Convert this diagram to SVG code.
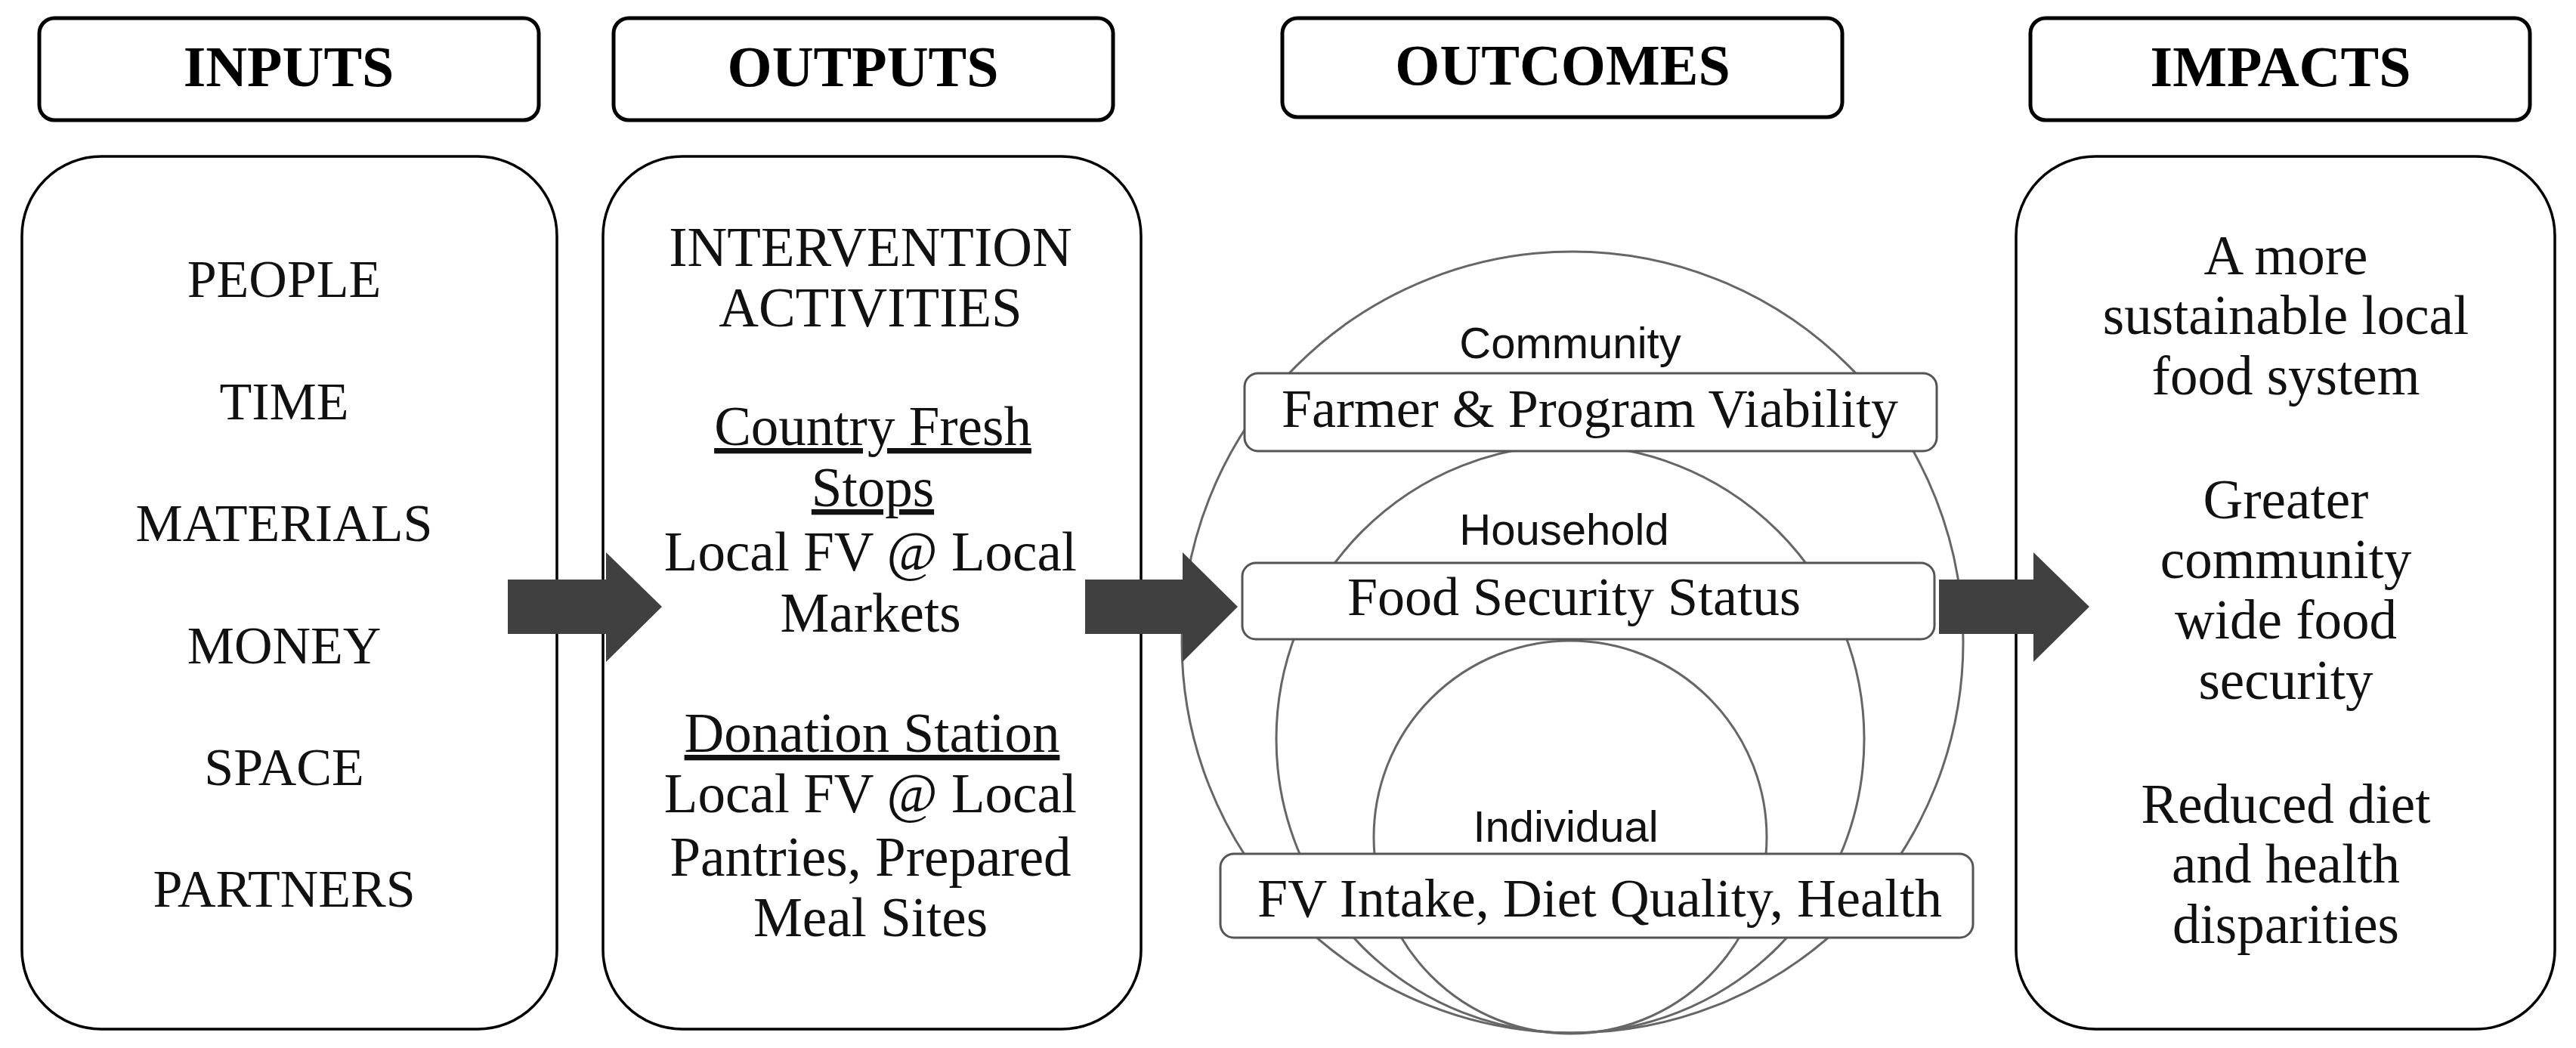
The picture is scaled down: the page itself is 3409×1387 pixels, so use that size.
<svg xmlns="http://www.w3.org/2000/svg" width="3409" height="1387" viewBox="0 0 3409 1387">
<defs>
<style>
.hdr{fill:#fff;stroke:#000;stroke-width:5}
.main{fill:#fff;stroke:#000;stroke-width:3.5}
.ht{font-family:"Liberation Serif",serif;font-weight:bold;font-size:76px;text-anchor:middle;fill:#000}
.it{font-family:"Liberation Serif",serif;font-size:70px;text-anchor:middle;fill:#111}
.bt{font-family:"Liberation Serif",serif;font-size:73px;text-anchor:middle;fill:#111}
.ul{text-decoration:underline}
.circ{fill:none;stroke:#666;stroke-width:3}
.sb{fill:#fff;stroke:#555;stroke-width:3}
.st{font-family:"Liberation Serif",serif;font-size:72px;text-anchor:middle;fill:#111}
.lab{font-family:"Liberation Sans",sans-serif;font-size:58px;text-anchor:middle;fill:#111}
.arrow{fill:#404040}
</style>
</defs>
<rect width="3409" height="1387" fill="#fff"/>

<g id="header-inputs">
<rect class="hdr" x="52" y="24" width="661" height="135" rx="20"/>
<text class="ht" x="382" y="114">INPUTS</text>
</g>
<g id="header-outputs">
<rect class="hdr" x="812" y="24" width="661" height="135" rx="20"/>
<text class="ht" x="1142" y="114">OUTPUTS</text>
</g>
<g id="header-outcomes">
<rect class="hdr" x="1697" y="24" width="741" height="131" rx="20"/>
<text class="ht" x="2068" y="112">OUTCOMES</text>
</g>
<g id="header-impacts">
<rect class="hdr" x="2687" y="24" width="661" height="135" rx="20"/>
<text class="ht" x="3018" y="114">IMPACTS</text>
</g>

<g id="inputs">
<rect class="main" x="29" y="207" width="708" height="1155" rx="105"/>
<text class="it" x="376" y="393">PEOPLE</text>
<text class="it" x="376" y="555">TIME</text>
<text class="it" x="376" y="716">MATERIALS</text>
<text class="it" x="376" y="878">MONEY</text>
<text class="it" x="376" y="1039">SPACE</text>
<text class="it" x="376" y="1200">PARTNERS</text>
</g>

<g id="outputs">
<rect class="main" x="798" y="207" width="712" height="1155" rx="105"/>
<text class="bt" x="1152" y="352">INTERVENTION</text>
<text class="bt" x="1152" y="432">ACTIVITIES</text>
<text class="bt ul" x="1155" y="589">Country Fresh</text>
<text class="bt ul" x="1155" y="670">Stops</text>
<text class="bt" x="1152" y="755">Local FV @ Local</text>
<text class="bt" x="1152" y="836">Markets</text>
<text class="bt ul" x="1154" y="995">Donation Station</text>
<text class="bt" x="1152" y="1075">Local FV @ Local</text>
<text class="bt" x="1152" y="1159">Pantries, Prepared</text>
<text class="bt" x="1152" y="1239">Meal Sites</text>
</g>

<g id="outcomes">
<circle class="circ" cx="2081" cy="850" r="517"/>
<circle class="circ" cx="2078" cy="978" r="389"/>
<circle class="circ" cx="2078" cy="1108" r="260"/>
<text class="lab" x="2078" y="474">Community</text>
<rect class="sb" x="1647" y="494" width="916" height="103" rx="18"/>
<text class="st" x="2104" y="565">Farmer &amp; Program Viability</text>
<text class="lab" x="2070" y="721">Household</text>
<rect class="sb" x="1644" y="745" width="916" height="101" rx="18"/>
<text class="st" x="2083" y="814">Food Security Status</text>
<text class="lab" x="2072" y="1114">Individual</text>
<rect class="sb" x="1615" y="1130" width="996" height="111" rx="18"/>
<text class="st" x="2117" y="1213">FV Intake, Diet Quality, Health</text>
</g>

<g id="impacts">
<rect class="main" x="2668" y="207" width="713" height="1155" rx="105"/>
<text class="bt" x="3025" y="363">A more</text>
<text class="bt" x="3025" y="442">sustainable local</text>
<text class="bt" x="3025" y="522">food system</text>
<text class="bt" x="3025" y="686">Greater</text>
<text class="bt" x="3025" y="765">community</text>
<text class="bt" x="3025" y="845">wide food</text>
<text class="bt" x="3025" y="925">security</text>
<text class="bt" x="3025" y="1089">Reduced diet</text>
<text class="bt" x="3025" y="1168">and health</text>
<text class="bt" x="3025" y="1248">disparities</text>
</g>

<g id="connectors">
<polygon class="arrow" points="672,767 802,767 802,731 876,803 802,876 802,839 672,839"/>
<polygon class="arrow" points="1436,767 1565,767 1565,731 1638,803 1565,876 1565,839 1436,839"/>
<polygon class="arrow" points="2566,767 2691,767 2691,731 2765,803 2691,876 2691,839 2566,839"/>
</g>
</svg>
